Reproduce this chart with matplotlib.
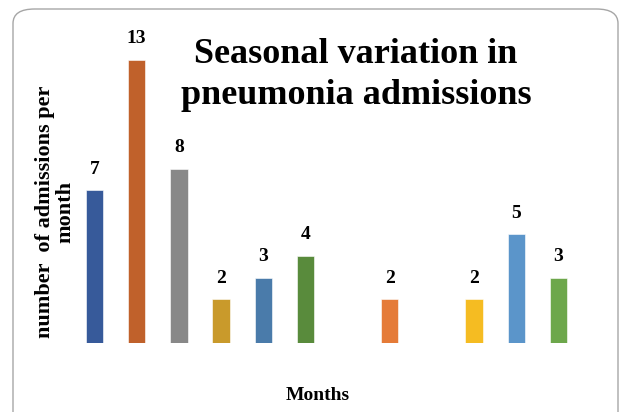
import matplotlib
matplotlib.use("Agg")
import matplotlib.pyplot as plt
from matplotlib.patches import FancyBboxPatch

months = ["Jan", "Feb", "Mar", "Apr", "May", "Jun", "Jul", "Aug", "Sep", "Oct", "Nov", "Dec"]
admissions = [7, 13, 8, 2, 3, 4, 0, 2, 0, 2, 5, 3]
colors = ["#375A9A", "#C0612B", "#888888", "#C99A2B", "#4A7BAA", "#598B3C",
          "#E57B38", "#E57B38", "#F5BC22", "#F5BC22", "#5B95CA", "#6DA74B"]
title = "Seasonal variation in\npneumonia admissions"
ylabel = "number  of admissions per\nmonth"
xlabel = "Months"

plt.rcParams['font.family'] = ['Liberation Serif', 'DejaVu Serif']

fig = plt.figure(figsize=(6.19, 4.12), dpi=100)
fig.patch.set_facecolor("white")

# rounded border
border = FancyBboxPatch((13 / 619, -0.05), (605 / 619), 1.05 - 9 / 412,
                        boxstyle="round,pad=0,rounding_size=0.035",
                        transform=fig.transFigure, facecolor="white",
                        edgecolor="#A6A6A6", linewidth=1.0, zorder=-1)
fig.patches.append(border)

ax = fig.add_axes([73.4 / 619, 0.1675, 506.2 / 619, 0.7403])
ax.set_zorder(2)
ax.set_facecolor("none")
x = list(range(len(months)))
bars = ax.bar(x, admissions, width=0.41, color=colors, edgecolor="white", linewidth=0.4)
for xi, v in zip(x, admissions):
    if v > 0:
        ax.annotate(str(v), (xi, v), xytext=(0, 9), textcoords="offset points",
                    ha="center", va="bottom", fontsize=14, fontweight="bold")
ax.set_xlim(-0.5, len(months) - 0.5)
ax.set_ylim(0, 14)
for s in ax.spines.values():
    s.set_visible(False)
ax.set_xticks([])
ax.set_yticks([])

fig.text(356 / 619, (412 - 75) / 412, title, ha="center", va="center",
         fontsize=26, fontweight="bold", linespacing=1.3, multialignment="center")
fig.text(55 / 619, (412 - 212) / 412, ylabel, ha="center", va="center", rotation=90,
         fontsize=16, fontweight="bold", multialignment="center", linespacing=1.0)
fig.text(318 / 619, (412 - 400) / 412, xlabel, ha="center", va="baseline",
         fontsize=14, fontweight="bold")

fig.savefig("out.png", dpi=100)
